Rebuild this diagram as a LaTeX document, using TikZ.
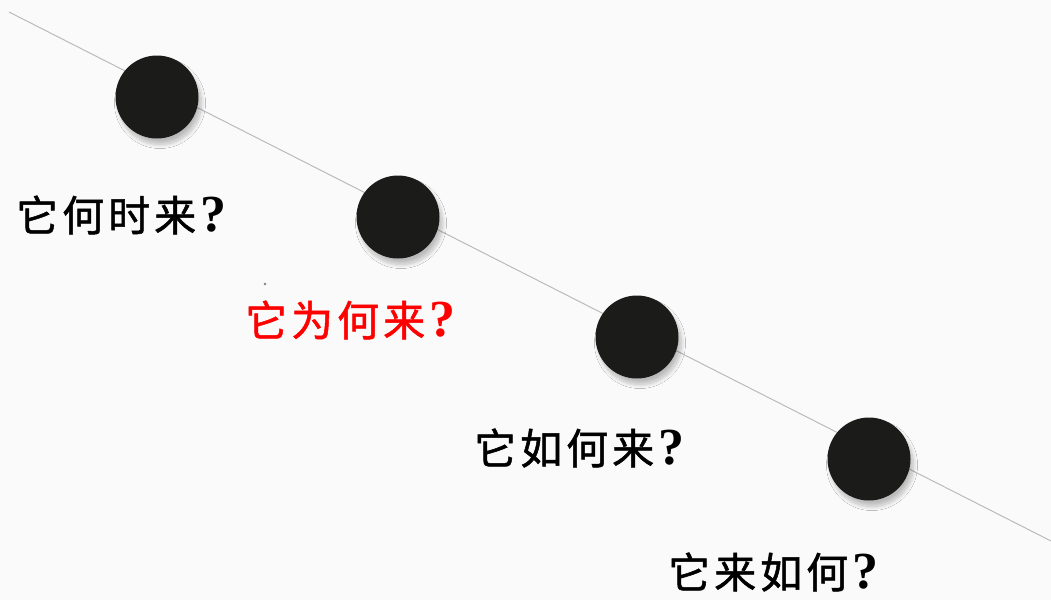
\documentclass[tikz,border=0pt]{standalone}
\usepackage{fontspec}
\newfontfamily\cjk{Noto Sans CJK SC}[AutoFakeBold=1.2]
\newfontfamily\qf{Liberation Serif}
\usetikzlibrary{shadows.blur}
\definecolor{bgc}{HTML}{FAFAFA}
\definecolor{dotc}{HTML}{1B1C1A}
\definecolor{linec}{HTML}{BBBBBB}
\tikzset{
  ball/.style={circle, fill=dotc, minimum size=83pt, inner sep=0pt,
    blur shadow={shadow xshift=3pt, shadow yshift=-6pt, shadow blur steps=14, shadow blur radius=4pt, shadow opacity=25}},
  label/.style={anchor=west, inner sep=0pt, font=\cjk\bfseries\fontsize{42}{44}\selectfont}
}
\newcommand{\qmk}{{\qf\bfseries\fontsize{52}{44}\selectfont ?}}
\newcommand{\gp}{\hspace{4pt}}
\begin{document}
\begin{tikzpicture}[x=1pt,y=-1pt]
\fill[bgc] (0,0) rectangle (1051,600);
\useasboundingbox (0,0) rectangle (1051,600);
\coordinate (ls) at (9,12);
\coordinate (le) at (1051,541);
\draw[linec, line width=1pt] (ls) -- (le);
\node[ball] (b1) at (157,97) {};
\node[ball] (b2) at (398,217) {};
\node[ball] (b3) at (637,337) {};
\node[ball] (b4) at (869,459) {};
\node[label] (t1) at (16,215) {它\gp 何\gp 时\gp 来\gp\qmk};
\node[label, text=red] (t2) at (245,320) {它\gp 为\gp 何\gp 来\gp\qmk};
\node[label] (t3) at (474,448) {它\gp 如\gp 何\gp 来\gp\qmk};
\node[label] (t4) at (668,572) {它\gp 来\gp 如\gp 何\gp\qmk};
\fill[gray] (265,284) circle (1.3pt);
\end{tikzpicture}
\end{document}
